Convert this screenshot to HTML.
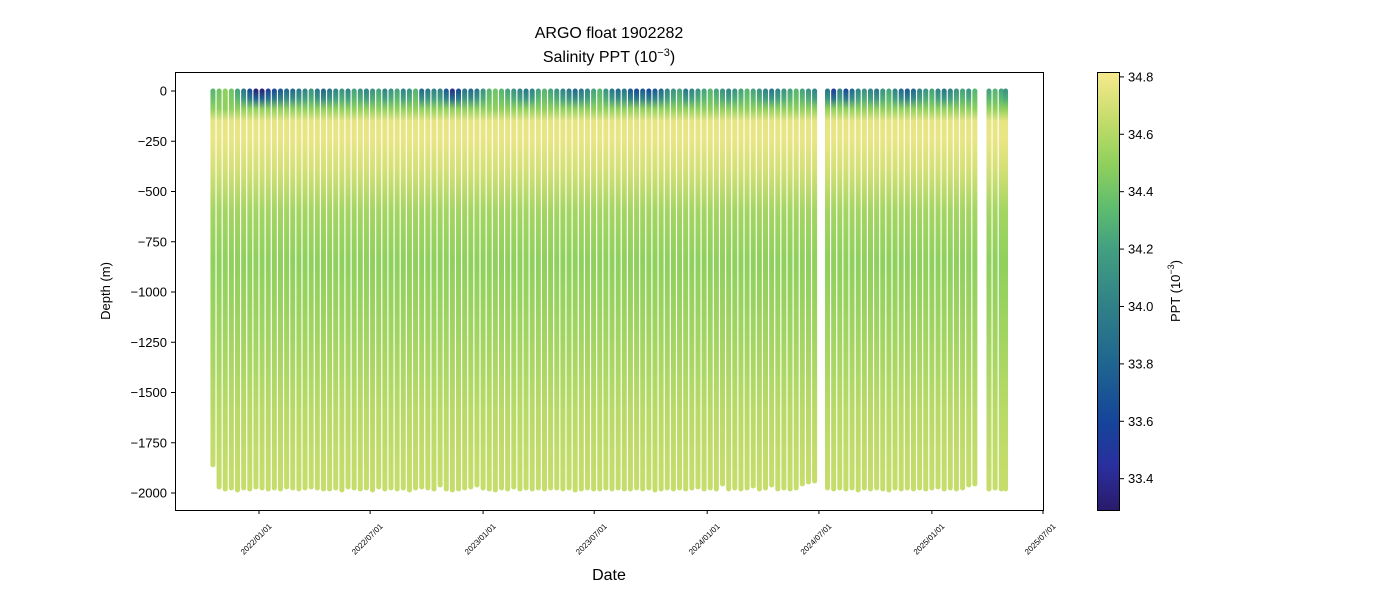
<!DOCTYPE html>
<html><head><meta charset="utf-8">
<style>
body{margin:0;background:#fff;font-family:"Liberation Sans",sans-serif;}
svg text{font-family:"Liberation Sans",sans-serif;fill:#000;}
</style></head>
<body>
<svg id="chart" width="1400" height="600" xmlns="http://www.w3.org/2000/svg">
<defs>
<linearGradient id="cbgrad" x1="0" y1="1" x2="0" y2="0">
<stop offset="0" stop-color="#2a1a6a"/>
<stop offset="0.1" stop-color="#2a2f9e"/>
<stop offset="0.2" stop-color="#15449a"/>
<stop offset="0.33" stop-color="#1e6490"/>
<stop offset="0.46" stop-color="#2f7f88"/>
<stop offset="0.6" stop-color="#43a080"/>
<stop offset="0.69" stop-color="#5ebc6e"/>
<stop offset="0.79" stop-color="#8fd05c"/>
<stop offset="0.89" stop-color="#c4dc6a"/>
<stop offset="1" stop-color="#f7e98e"/>
</linearGradient>
</defs>
<text x="609" y="38" font-size="16" text-anchor="middle">ARGO float 1902282</text>
<text x="609" y="62" font-size="16" text-anchor="middle">Salinity PPT (10<tspan dy="-6" font-size="11">−3</tspan><tspan dy="6">)</tspan></text>
<g id="marks"></g>
<rect x="175.5" y="72.5" width="868" height="438" fill="none" stroke="#000" stroke-width="1"/>
<g id="yaxis"></g>
<g id="xaxis"></g>
<text transform="translate(110,291) rotate(-90)" font-size="13" text-anchor="middle">Depth (m)</text>
<text x="609" y="580" font-size="16" text-anchor="middle">Date</text>
<rect x="1097.5" y="72.5" width="22" height="438" fill="url(#cbgrad)" stroke="#000" stroke-width="1"/>
<g id="cbaxis"></g>
<text transform="translate(1180,291) rotate(-90)" font-size="13" text-anchor="middle">PPT (10<tspan dy="-6" font-size="9">−3</tspan><tspan dy="6">)</tspan></text>
</svg>
<script>
const dayOffsets=[-75,-65,-55,-45,-35,-25,-15,-5,5,15,25,35,45,55,65,75,85,95,105,115,125,135,145,155,165,175,185,195,205,215,225,235,245,255,265,275,285,295,305,315,325,335,345,355,365,375,385,395,405,415,425,435,445,455,465,475,485,495,505,515,525,535,545,555,565,575,585,595,605,615,625,635,645,655,665,675,685,695,705,715,725,735,745,755,765,775,785,795,805,815,825,835,845,855,865,875,885,895,905,926,936,946,956,966,976,986,996,1006,1016,1026,1036,1046,1056,1066,1076,1086,1096,1106,1116,1126,1136,1146,1156,1166,1189,1199,1209,1216];
const maxDepth=[1860,1970,1980,1975,1985,1975,1980,1970,1975,1980,1975,1980,1970,1975,1980,1975,1970,1975,1980,1980,1975,1985,1970,1975,1980,1975,1985,1970,1980,1975,1980,1975,1985,1975,1970,1975,1980,1960,1980,1985,1980,1975,1970,1960,1975,1980,1985,1975,1980,1970,1980,1975,1980,1975,1980,1975,1975,1980,1975,1985,1980,1975,1980,1980,1975,1980,1975,1980,1980,1975,1980,1975,1985,1980,1975,1980,1975,1980,1975,1970,1980,1975,1980,1955,1980,1975,1980,1975,1965,1980,1975,1960,1980,1975,1980,1975,1955,1945,1940,1975,1980,1975,1980,1975,1985,1975,1980,1975,1980,1985,1975,1980,1975,1980,1975,1980,1975,1970,1980,1975,1980,1975,1960,1955,1980,1975,1980,1980];
const surfaceSal=[34.3,34.4,34.5,34.4,34.2,33.9,33.6,33.3,33.3,33.5,33.6,33.7,33.8,33.8,33.9,34.0,34.1,33.9,33.8,33.9,34.0,34.1,34.0,34.2,34.1,34.0,34.1,34.2,34.0,34.1,34.2,34.0,34.1,34.3,33.8,33.9,34.0,34.0,33.7,33.4,33.6,33.9,33.8,33.9,34.1,34.3,34.4,34.3,34.2,34.1,34.0,33.9,34.0,34.2,34.3,34.2,34.1,34.0,33.9,33.8,33.9,34.0,34.2,34.3,34.1,33.9,33.8,33.9,33.7,33.6,33.7,33.6,33.7,33.8,34.0,34.1,34.2,33.9,34.0,34.1,34.2,34.3,34.2,34.1,34.0,34.1,34.2,34.3,34.2,34.1,34.0,33.9,34.0,34.1,34.2,34.3,34.2,34.1,34.0,33.9,33.5,34.0,33.6,33.8,34.0,34.1,34.0,33.9,34.1,34.2,34.0,33.8,33.7,33.8,34.0,34.1,34.2,34.0,33.9,34.0,34.1,34.2,34.1,34.3,34.2,34.3,34.2,34.1];
const profileDepths=[0,50,100,160,250,400,600,850,1200,1600,2000];
const profileSal=[null,null,34.5,34.76,34.77,34.7,34.56,34.5,34.55,34.62,34.66];
const yTicks=[0,-250,-500,-750,-1000,-1250,-1500,-1750,-2000];
const xTickDays=[0,181,365,546,730,912,1096,1277];
const xTickLabels=["2022/01/01","2022/07/01","2023/01/01","2023/07/01","2024/01/01","2024/07/01","2025/01/01","2025/07/01"];
const cbTicks=[33.4,33.6,33.8,34.0,34.2,34.4,34.6,34.8];

const NS="http://www.w3.org/2000/svg";
const yScale=d=>91-d*0.201;
const xScale=t=>259+t*(784/1277);
const cbScale=v=>72+(34.817-v)*287;
const cmap=[[33.29,[42,26,106]],[33.44,[42,47,158]],[33.6,[21,68,154]],[33.79,[30,100,144]],[33.99,[47,127,136]],[34.2,[67,160,128]],[34.34,[94,188,110]],[34.5,[143,208,92]],[34.65,[196,220,106]],[34.817,[247,233,142]]];
function color(v){
  if(v<=cmap[0][0])return `rgb(${cmap[0][1]})`;
  for(let i=1;i<cmap.length;i++){
    if(v<=cmap[i][0]){const a=cmap[i-1],b=cmap[i],f=(v-a[0])/(b[0]-a[0]);
      return `rgb(${a[1].map((c,k)=>Math.round(c+(b[1][k]-c)*f)).join(',')})`;}
  }
  return `rgb(${cmap[cmap.length-1][1]})`;
}
const svg=document.getElementById('chart');
const defs=svg.querySelector('defs');
const marks=document.getElementById('marks');
dayOffsets.forEach((t,i)=>{
  const s0=surfaceSal[i];
  const sal=profileSal.map((v,k)=>k===0?s0:(k===1?(s0*0.6+34.5*0.4):v));
  const md=maxDepth[i];
  const g=document.createElementNS(NS,'linearGradient');
  g.setAttribute('id','pg'+i);g.setAttribute('x1','0');g.setAttribute('y1','0');g.setAttribute('x2','0');g.setAttribute('y2','1');
  profileDepths.forEach((d,k)=>{
    const st=document.createElementNS(NS,'stop');
    st.setAttribute('offset',Math.min(1,d/md));
    st.setAttribute('stop-color',color(sal[k]));
    g.appendChild(st);
  });
  defs.appendChild(g);
  const r=document.createElementNS(NS,'rect');
  
  
  const x=xScale(t);
  r.setAttribute('x',x-2.5);r.setAttribute('width',5);
  r.setAttribute('y',yScale(0)-2.5);r.setAttribute('height',yScale(-md)-yScale(0)+5);
  r.setAttribute('rx',2.5);
  r.setAttribute('fill','url(#pg'+i+')');
  marks.appendChild(r);
});
const ya=document.getElementById('yaxis');
yTicks.forEach(v=>{
  const y=yScale(v);
  const l=document.createElementNS(NS,'line');
  
  
  l.setAttribute('x1',171);l.setAttribute('x2',175);l.setAttribute('y1',y);l.setAttribute('y2',y);l.setAttribute('stroke','#000');
  ya.appendChild(l);
  const tx=document.createElementNS(NS,'text');
  
  
  tx.setAttribute('x',167);tx.setAttribute('y',y+4.5);tx.setAttribute('font-size','13');tx.setAttribute('text-anchor','end');
  tx.textContent=v===0?'0':'−'+Math.abs(v);
  ya.appendChild(tx);
});
const xa=document.getElementById('xaxis');
xTickDays.forEach((t,i)=>{
  const x=xScale(t);
  const l=document.createElementNS(NS,'line');
  
  
  l.setAttribute('x1',x);l.setAttribute('x2',x);l.setAttribute('y1',510);l.setAttribute('y2',514);l.setAttribute('stroke','#000');
  xa.appendChild(l);
  const tx=document.createElementNS(NS,'text');
  
  
  tx.setAttribute('font-size','8');tx.setAttribute('text-anchor','middle');
  tx.setAttribute('transform',`translate(${x-1},${541}) rotate(-45)`);
  tx.textContent=xTickLabels[i];
  xa.appendChild(tx);
});
const cba=document.getElementById('cbaxis');
cbTicks.forEach(v=>{
  const y=cbScale(v);
  const l=document.createElementNS(NS,'line');
  
  
  l.setAttribute('x1',1120);l.setAttribute('x2',1124);l.setAttribute('y1',y);l.setAttribute('y2',y);l.setAttribute('stroke','#000');
  cba.appendChild(l);
  const tx=document.createElementNS(NS,'text');
  
  
  tx.setAttribute('x',1128);tx.setAttribute('y',y+4.5);tx.setAttribute('font-size','13');
  tx.textContent=v.toFixed(1);
  cba.appendChild(tx);
});
</script>
</body></html>
